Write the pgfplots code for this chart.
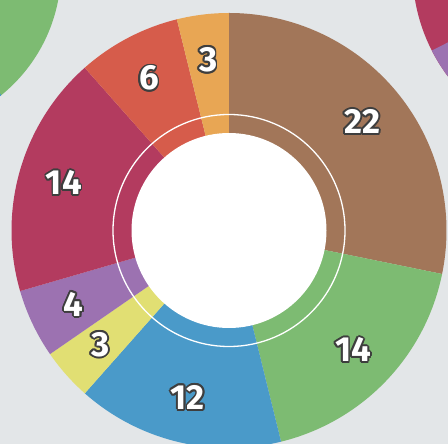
\documentclass[border=0pt]{standalone}
\usepackage{fontspec}
\setmainfont{Fira Sans}
\usepackage{pgfplots}
\pgfplotsset{compat=1.18}
\definecolor{bg}{HTML}{E3E6E8}
\definecolor{cbrown}{HTML}{A27659}
\definecolor{cgreen}{HTML}{7DBB72}
\definecolor{cblue}{HTML}{4A9AC9}
\definecolor{cyellow}{HTML}{E1DF73}
\definecolor{cpurple}{HTML}{9C72B1}
\definecolor{ccrimson}{HTML}{B33B5F}
\definecolor{cred}{HTML}{D65C4B}
\definecolor{corange}{HTML}{E8A654}
\definecolor{outl}{HTML}{3E3E3E}

% centre and radii of the ring, in pixels of the reference
\def\cx{229}\def\cy{213.5}
\def\rout{217.5}\def\rin{97.5}\def\rline{116}\def\rlab{172}

\begin{document}
\begin{tikzpicture}
\begin{axis}[scale only axis,width=448bp,height=444bp,
  xmin=0,xmax=448,ymin=0,ymax=444,hide axis,clip=true]
\fill[bg] (axis cs:0,0) rectangle (axis cs:448,444);
% parts of the neighbouring rings
\fill[cgreen] (axis cs:-100,474) circle[radius=161];
\fill[cblue] (axis cs:-100,474) -- (axis cs:{-100+161*cos(-51)},{474+161*sin(-51)}) arc[start angle=-51,end angle=-80,radius=161] -- cycle;
\fill[ccrimson] (axis cs:590,474) circle[radius=177.5];
\fill[cpurple] (axis cs:590,474) -- (axis cs:{590+177.5*cos(207)},{474+177.5*sin(207)}) arc[start angle=207,end angle=270,radius=177.5] -- cycle;
% the ring
\gdef\ang{90}
\foreach \v/\c in {22/cbrown,14/cgreen,12/cblue,3/cyellow,4/cpurple,14/ccrimson,6/cred,3/corange}{
  \pgfmathsetmacro\angend{\ang-\v/78*360}
  \pgfmathsetmacro\angmid{(\ang+\angend)/2}
  \pgfmathsetmacro\lx{\cx+\rlab*cos(\angmid)}
  \pgfmathsetmacro\ly{\cy+\rlab*sin(\angmid)}
  \edef\temp{\noexpand\fill[\c] (axis cs:\cx,\cy) -- (axis cs:{\cx+\rout*cos(\ang)},{\cy+\rout*sin(\ang)}) arc[start angle=\ang,end angle=\angend,radius=\rout] -- cycle;}
  \temp
  \xdef\ang{\angend}
}
\fill[white] (axis cs:\cx,\cy) circle[radius=\rin];
\draw[white,line width=1.3bp] (axis cs:\cx,\cy) circle[radius=\rline];
% labels, outlined
\gdef\ang{90}
\foreach \v in {22,14,12,3,4,14,6,3}{
  \pgfmathsetmacro\angend{\ang-\v/78*360}
  \pgfmathsetmacro\angmid{(\ang+\angend)/2}
  \pgfmathsetmacro\lx{\cx+\rlab*cos(\angmid)}
  \pgfmathsetmacro\ly{\cy+\rlab*sin(\angmid)}
  \foreach \d in {0,30,...,330}{
    \edef\temp{\noexpand\node[text=outl,font=\noexpand\fontsize{35}{35}\noexpand\selectfont\noexpand\bfseries,inner sep=0pt] at (axis cs:{\lx+1.8*cos(\d)},{\ly+1.8*sin(\d)}) {\v};}
    \temp
  }
  \edef\temp{\noexpand\node[text=white,font=\noexpand\fontsize{35}{35}\noexpand\selectfont\noexpand\bfseries,inner sep=0pt] at (axis cs:\lx,\ly) {\v};}
  \temp
  \xdef\ang{\angend}
}
\end{axis}
\end{tikzpicture}
\end{document}
